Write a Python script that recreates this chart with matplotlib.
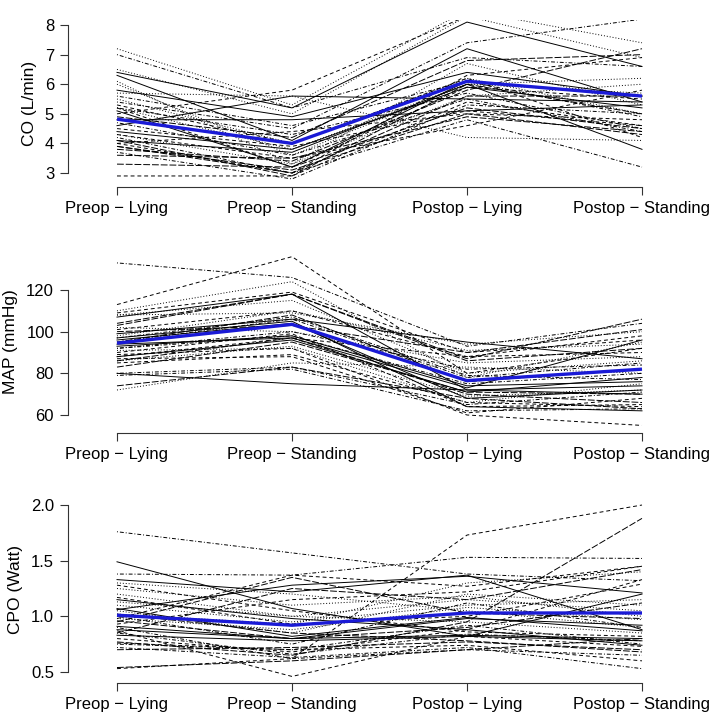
import matplotlib
matplotlib.use("Agg")
import matplotlib.pyplot as plt
import numpy as np

plt.rcParams['font.family'] = ['Liberation Sans', 'DejaVu Sans']

timepoints = ["Preop \u2212 Lying", "Preop \u2212 Standing", "Postop \u2212 Lying", "Postop \u2212 Standing"]

co_patients = [
    [6.4, 5.2, 8.1, 6.6], [5.2, 3.2, 5.9, 5.5], [7.2, 5.3, 8.5, 7.4], [7.0, 5.2, 6.9, 6.6],
    [4.1, 2.9, 6.0, 5.0], [6.3, 4.1, 7.2, 5.4], [2.9, 2.9, 5.4, 4.6], [6.5, 5.0, 8.3, 6.9],
    [5.6, 4.6, 6.1, 4.9], [3.3, 3.2, 5.2, 4.5], [4.6, 5.6, 5.5, 5.4], [5.0, 5.8, 8.3, 8.6],
    [6.0, 3.6, 6.0, 5.7], [5.4, 4.5, 7.4, 8.2], [3.9, 3.1, 5.0, 4.3], [4.8, 4.8, 5.1, 5.3],
    [4.0, 3.0, 6.3, 6.9], [4.3, 3.3, 6.7, 5.3], [5.2, 4.3, 5.7, 4.5], [3.6, 3.5, 4.9, 4.4],
    [4.4, 3.8, 5.9, 5.2], [5.3, 4.0, 6.2, 4.2], [5.7, 5.6, 4.2, 4.1], [4.2, 3.0, 4.8, 3.2],
    [3.8, 3.4, 5.8, 7.2], [4.1, 3.7, 6.0, 3.8], [4.5, 3.9, 5.1, 4.6], [6.1, 3.3, 5.6, 6.0],
    [3.7, 2.8, 5.3, 5.0], [4.9, 4.2, 6.8, 7.0], [5.1, 3.2, 6.1, 5.6], [4.0, 4.4, 5.0, 4.8],
    [5.5, 4.0, 6.2, 5.0], [4.7, 3.6, 5.5, 4.4], [3.9, 3.0, 5.6, 5.6], [5.8, 4.9, 6.4, 5.6],
    [4.3, 3.5, 4.6, 5.8], [5.2, 3.8, 6.0, 6.2],
]
co_mean = [4.82, 4.0, 6.1, 5.6]

map_patients = [
    [107, 118, 72, 70], [88, 97, 88, 98], [108, 109, 94, 100], [133, 126, 93, 104],
    [74, 83, 68, 63], [80, 75, 72, 74], [113, 136, 80, 92], [98, 110, 91, 94],
    [95, 106, 78, 85], [86, 97, 70, 66], [97, 105, 64, 62], [90, 99, 64, 65],
    [102, 100, 85, 88], [92, 98, 75, 80], [103, 118, 87, 106], [94, 97, 73, 96],
    [85, 89, 66, 64], [110, 124, 78, 95], [80, 83, 65, 71], [100, 103, 90, 101],
    [96, 104, 68, 72], [89, 92, 60, 55], [108, 115, 80, 86], [92, 100, 82, 84],
    [104, 118, 86, 92], [93, 98, 74, 76], [87, 88, 61, 68], [72, 85, 83, 80],
    [97, 107, 79, 77], [83, 95, 71, 70], [99, 106, 95, 87], [101, 110, 88, 90],
    [91, 92, 66, 75], [79, 82, 62, 63], [95, 108, 76, 82], [88, 96, 71, 78],
    [109, 119, 90, 96], [86, 93, 69, 72],
]
map_mean = [94.5, 103.5, 76.5, 82.0]

cpo_patients = [
    [1.49, 1.07, 0.82, 0.78], [0.53, 0.62, 1.73, 2.00], [1.30, 1.20, 1.05, 0.90], [1.76, 1.57, 1.38, 1.32],
    [0.54, 0.60, 0.70, 0.80], [1.33, 1.22, 1.37, 0.88], [0.98, 1.37, 1.27, 1.45], [1.10, 0.95, 1.10, 1.15],
    [1.38, 1.37, 1.53, 1.52], [0.77, 0.65, 0.95, 1.88], [1.06, 1.28, 1.36, 1.21], [0.87, 0.46, 0.82, 0.73],
    [1.25, 1.10, 1.18, 1.00], [0.72, 0.63, 0.72, 0.53], [0.85, 1.25, 1.15, 1.42], [0.91, 0.80, 0.83, 0.80],
    [1.17, 0.93, 1.00, 1.29], [1.05, 0.85, 1.20, 1.10], [0.75, 0.70, 0.92, 0.75], [0.95, 1.35, 1.03, 0.98],
    [1.07, 0.82, 0.99, 0.87], [0.80, 0.68, 0.88, 1.33], [0.98, 0.88, 1.08, 0.97], [1.00, 0.75, 1.12, 0.90],
    [0.70, 0.72, 0.77, 0.70], [0.88, 0.80, 0.98, 0.92], [1.28, 1.05, 0.86, 0.82], [1.20, 1.00, 1.15, 1.05],
    [0.90, 0.62, 0.70, 0.65], [1.02, 0.85, 0.78, 0.68], [0.83, 0.78, 0.82, 1.20], [0.93, 1.15, 1.22, 1.45],
    [1.13, 1.00, 0.95, 0.85], [0.85, 0.66, 0.84, 0.78], [0.96, 0.80, 0.90, 1.12], [1.15, 0.98, 0.88, 0.74],
    [0.76, 0.70, 0.74, 0.60], [1.02, 0.93, 1.30, 1.40],
]
cpo_mean = [1.01, 0.92, 1.03, 1.03]

linestyles = ['-', (0, (4, 3)), (0, (1, 2)), (0, (1, 2, 4, 2)), (0, (7, 2))]

W, H = 709, 716
fig = plt.figure(figsize=(W / 100, H / 100), dpi=100)

panels = [
    dict(data=co_patients, mean=co_mean, label="CO (L/min)", top=20, bottom=187,
         ylim=(2.527, 8.17), yticks=[3, 4, 5, 6, 7, 8], ytl=["3", "4", "5", "6", "7", "8"]),
    dict(data=map_patients, mean=map_mean, label="MAP (mmHg)", top=250, bottom=433,
         ylim=(51.36, 139.2), yticks=[60, 80, 100, 120], ytl=["60", "80", "100", "120"]),
    dict(data=cpo_patients, mean=cpo_mean, label="CPO (Watt)", top=495, bottom=683,
         ylim=(0.401, 2.09), yticks=[0.5, 1.0, 1.5, 2.0], ytl=["0.5", "1.0", "1.5", "2.0"]),
]

left_px, right_px = 68, 663
x = np.arange(1, 5)
for p in panels:
    ax = fig.add_axes([left_px / W, 1 - p['bottom'] / H, (right_px - left_px) / W,
                       (p['bottom'] - p['top']) / H])
    for i, row in enumerate(p['data']):
        ax.plot(x, row, color='black', lw=0.7, linestyle=linestyles[i % 5])
    ax.plot(x, p['mean'], color='#1a1ad6', lw=2.4, solid_capstyle='butt')
    ax.set_xlim(0.72, 4.12)
    ax.set_ylim(*p['ylim'])
    for s in ['top', 'right']:
        ax.spines[s].set_visible(False)
    ax.spines['left'].set_bounds(p['yticks'][0], p['yticks'][-1])
    ax.spines['bottom'].set_bounds(1, 4)
    for s in ['left', 'bottom']:
        ax.spines[s].set_linewidth(0.8)
        ax.spines[s].set_color('#333333')
    ax.set_xticks(x)
    ax.set_xticklabels(timepoints, fontsize=12)
    ax.set_yticks(p['yticks'])
    ax.set_yticklabels(p['ytl'], fontsize=12)
    ax.tick_params(axis='both', length=6, width=0.8, color='#333333', pad=4)
    ax.set_ylabel(p['label'], fontsize=12.5, labelpad=6)

fig.savefig("out.png", dpi=100)
